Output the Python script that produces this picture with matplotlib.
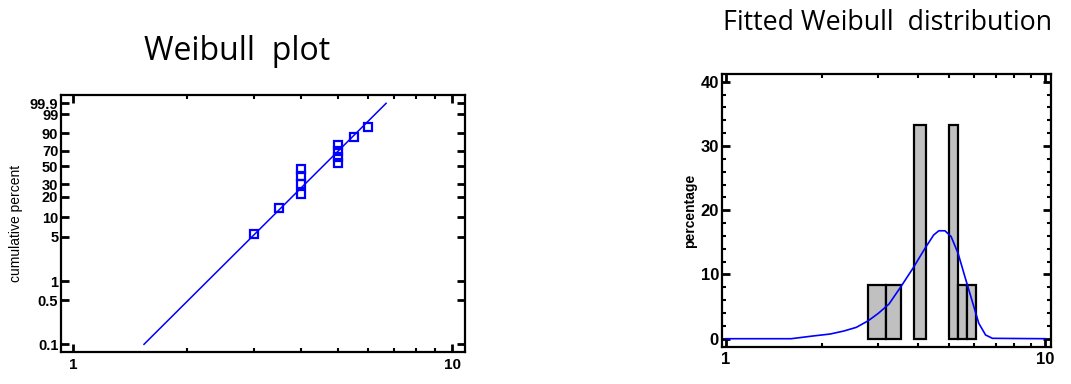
import numpy as np
import matplotlib
matplotlib.use('Agg')
from matplotlib import pyplot as plt
from matplotlib.ticker import FixedLocator, NullFormatter

# Weibull probability plot: sample values and their cumulative percent
sample_x = [3, 3.5, 4, 4, 4, 4, 5, 5, 5, 5, 5.5, 6]
cum_pct = [5.6, 13.7, 21.8, 29.8, 37.9, 46.0, 54.0, 62.1, 70.2, 78.2, 86.3, 94.4]
fit_x = [1.54, 6.69]
fit_pct = [0.1, 99.9]
pct_ticks = [0.1, 0.5, 1, 5, 10, 20, 30, 50, 70, 90, 99, 99.9]
pct_labels = ['0.1', '0.5', '1', '5', '10', '20', '30', '50', '70', '90', '99', '99.9']

# histogram bars (left edge, right edge, percentage)
bar_left = [2.78, 3.17, 3.88, 5.0, 5.33, 5.68]
bar_right = [3.17, 3.53, 4.23, 5.33, 5.68, 6.07]
bar_pct = [8.33, 8.33, 33.33, 33.33, 8.33, 8.33]

# fitted density curve
curve_x = [1.0, 1.60, 1.87, 2.12, 2.34, 2.56, 2.79, 3.0, 3.24, 3.53, 3.85, 4.2,
           4.47, 4.64, 4.85, 5.07, 5.33, 5.6, 5.89, 6.19, 6.5, 6.83, 10.0]
curve_pct = [0, 0, 0.42, 0.73, 1.2, 1.77, 2.8, 3.95, 5.4, 8.1, 10.96, 14.07,
             16.14, 16.8, 16.8, 15.9, 13.3, 9.65, 6.0, 2.4, 0.58, 0.06, 0]

blue = '#0000FF'
tick_font = {'family': 'Liberation Sans', 'weight': 'bold'}


def wb_fwd(p):
    p = np.clip(np.asarray(p, dtype=float), 1e-6, 100 - 1e-6)
    return np.log(-np.log(1 - p / 100.0))


def wb_inv(y):
    return 100.0 * (1 - np.exp(-np.exp(np.asarray(y, dtype=float))))


fig = plt.figure(figsize=(10.71, 3.84), dpi=100)

# ---- Weibull plot ----
ax1 = fig.add_axes([0.0570, 0.0833, 0.3772, 0.6693])
ax1.plot(fit_x, fit_pct, color=blue, lw=1.1, zorder=2)
ax1.plot(sample_x, cum_pct, ls='none', marker='s', ms=5.5, mfc='none',
         mec=blue, mew=1.6, zorder=3)
ax1.set_xscale('log')
ax1.set_yscale('function', functions=(wb_fwd, wb_inv))
ax1.set_xlim(0.931, 10.8)
ax1.set_ylim(0.0754, 99.9915)
ax1.yaxis.set_major_locator(FixedLocator(pct_ticks))
ax1.set_yticklabels(pct_labels, fontdict=tick_font, fontsize=10.5)
ax1.yaxis.set_minor_locator(FixedLocator([]))
ax1.xaxis.set_major_locator(FixedLocator([1, 10]))
ax1.set_xticklabels(['1', '10'], fontdict=tick_font, fontsize=11)
ax1.xaxis.set_minor_locator(FixedLocator([2, 3, 4, 5, 6, 7, 8, 9]))
ax1.xaxis.set_minor_formatter(NullFormatter())
ax1.tick_params(which='major', direction='in', length=6, width=2,
                left=True, right=True, top=True, bottom=True, pad=2)
ax1.tick_params(axis='x', which='major', pad=4)
ax1.tick_params(which='minor', direction='in', length=3, width=1.5,
                top=True, bottom=True)
for s in ax1.spines.values():
    s.set_linewidth(1.6)
ax1.set_ylabel('cumulative percent', fontfamily='Liberation Sans', fontsize=10)
ax1.yaxis.set_label_coords(-0.094, 0.5)
fig.text(0.2217, 0.865, 'Weibull  plot', fontfamily='Open Sans', fontsize=23,
         ha='center', va='center')

# ---- Fitted Weibull distribution ----
ax2 = fig.add_axes([0.6739, 0.0971, 0.3072, 0.7094])
widths = [r - l for l, r in zip(bar_left, bar_right)]
ax2.bar(bar_left, bar_pct, width=widths, align='edge', color='#C0C0C0',
        edgecolor='black', linewidth=1.6, zorder=2)
ax2.plot(curve_x, curve_pct, color=blue, lw=1.2, zorder=3)
ax2.set_xscale('log')
ax2.set_xlim(0.97, 10.4)
ax2.set_ylim(-1.245, 41.15)
ax2.xaxis.set_major_locator(FixedLocator([1, 10]))
ax2.set_xticklabels(['1', '10'], fontdict=tick_font, fontsize=12)
ax2.xaxis.set_minor_locator(FixedLocator([2, 3, 4, 5, 6, 7, 8, 9]))
ax2.xaxis.set_minor_formatter(NullFormatter())
ax2.yaxis.set_major_locator(FixedLocator([0, 10, 20, 30, 40]))
ax2.set_yticklabels(['0', '10', '20', '30', '40'], fontdict=tick_font, fontsize=12)
ax2.yaxis.set_minor_locator(FixedLocator(np.arange(0, 41, 2)))
ax2.tick_params(which='major', direction='in', length=6, width=2,
                left=True, right=True, top=True, bottom=True, pad=2)
ax2.tick_params(axis='x', which='major', pad=4)
ax2.tick_params(which='minor', direction='in', length=3, width=1.5,
                left=True, right=True, top=True, bottom=True)
for s in ax2.spines.values():
    s.set_linewidth(1.6)
ax2.set_ylabel('percentage', fontfamily='Liberation Sans', fontsize=10,
               fontweight='bold')
ax2.yaxis.set_label_coords(-0.075, 0.5)
fig.text(0.829, 0.94, 'Fitted Weibull  distribution', fontfamily='Open Sans',
         fontsize=19.3, ha='center', va='center')

plt.savefig('out.png', dpi=100)
plt.close('all')
